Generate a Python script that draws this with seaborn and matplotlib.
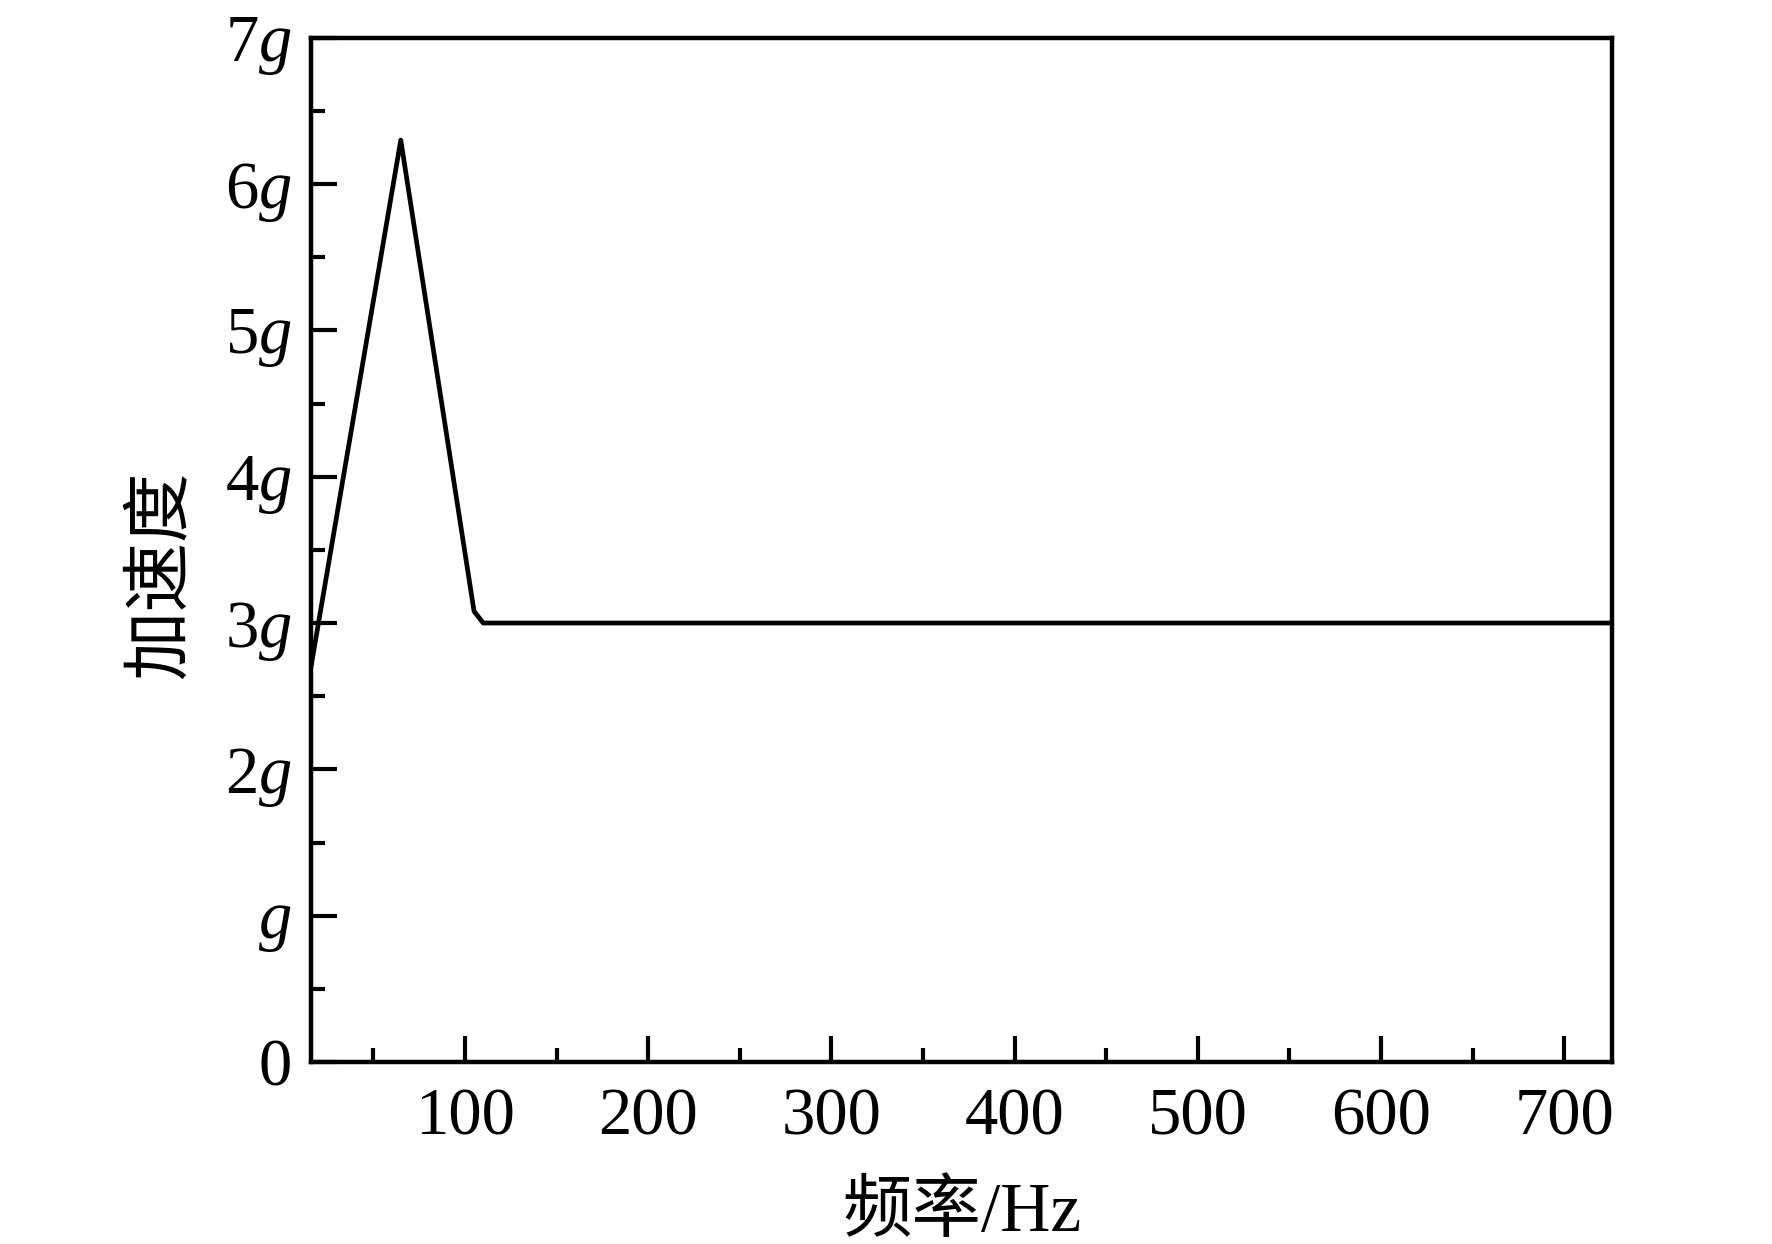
import matplotlib
matplotlib.use("Agg")
import matplotlib.pyplot as plt
import pandas as pd
import seaborn as sns
from matplotlib.ticker import MultipleLocator

# data
freq_hz = [16, 65, 105, 110, 725]
accel_g = [2.7, 6.3, 3.08, 3.0, 3.0]
ytick_vals = [0, 1, 2, 3, 4, 5, 6, 7]
ytick_labels = ["0", "$g$", "2$g$", "3$g$", "4$g$", "5$g$", "6$g$", "7$g$"]
xtick_vals = [100, 200, 300, 400, 500, 600, 700]

sns.set_theme(style="white")
plt.rcParams["font.family"] = ["Liberation Serif", "Noto Sans CJK SC"]
plt.rcParams["mathtext.fontset"] = "custom"
plt.rcParams["mathtext.it"] = "Liberation Serif:italic"
plt.rcParams["mathtext.rm"] = "Liberation Serif"
plt.rcParams["text.color"] = "black"
plt.rcParams["axes.labelcolor"] = "black"
plt.rcParams["xtick.color"] = "black"
plt.rcParams["ytick.color"] = "black"

df = pd.DataFrame({"freq": freq_hz, "accel": accel_g})

fig = plt.figure(figsize=(17.72, 12.44), dpi=100)
ax = fig.add_axes([0.1755, 0.1463, 0.7342, 0.8234])
sns.lineplot(data=df, x="freq", y="accel", color="black", linewidth=3.4,
             ax=ax, sort=False)

ax.set_xlim(16, 726)
ax.set_ylim(0, 7)
ax.set_xticks(xtick_vals)
ax.xaxis.set_minor_locator(MultipleLocator(50))
ax.set_yticks(ytick_vals)
ax.set_yticklabels(ytick_labels)
ax.yaxis.set_minor_locator(MultipleLocator(0.5))

ax.tick_params(axis="both", which="major", direction="in", length=19,
               width=3, labelsize=48, pad=18, labelcolor="black",
               top=False, right=False, bottom=True, left=True)
ax.tick_params(axis="y", which="major", pad=14)
ax.tick_params(axis="both", which="minor", direction="in", length=10,
               width=3, top=False, right=False, bottom=True, left=True)
for s in ax.spines.values():
    s.set_linewidth(3.2)
    s.set_color("black")

ax.set_xlabel("频率/Hz", fontsize=50, labelpad=24)
ax.set_ylabel("加速度", fontsize=50,
              family=["Noto Sans CJK SC", "Liberation Serif"])
ax.yaxis.set_label_coords(-0.089, 0.476)

fig.savefig("out.png", dpi=100)
